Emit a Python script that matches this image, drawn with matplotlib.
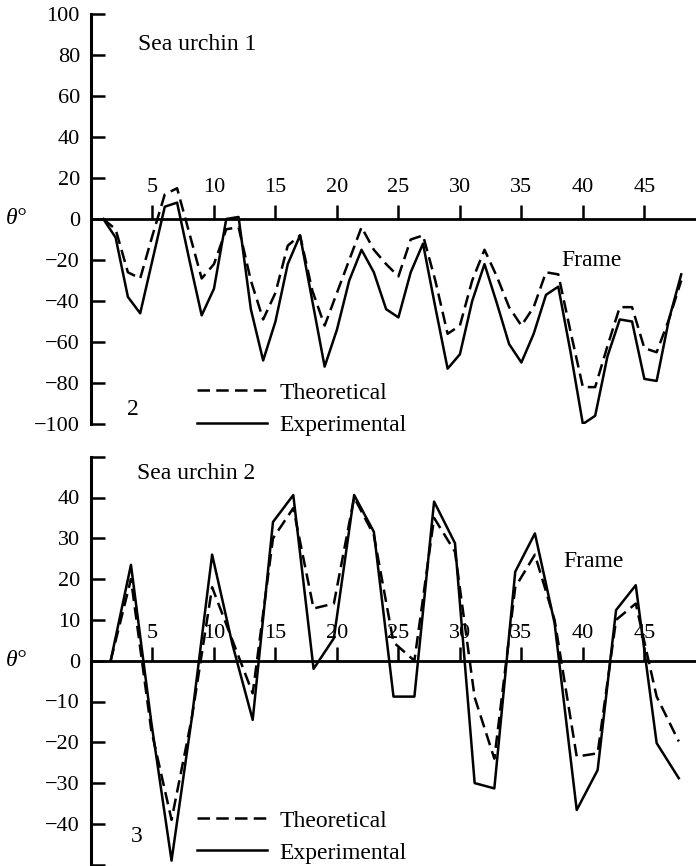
import matplotlib
matplotlib.use("Agg")
import matplotlib.pyplot as plt

plt.rcParams['font.family'] = ['Liberation Serif', 'DejaVu Serif']

# Sea urchin 1 - one point per frame
frames_1 = list(range(1, 49))
theo_1 = [0, -5, -26, -29, -8, 12, 15, -7, -29, -22, -5, -4, -30, -49, -36, -13,
          -8, -35, -52, -36, -20, -4, -15, -22, -28, -10, -8, -30, -56, -52, -30, -15,
          -28, -43, -52, -43, -26, -27, -55, -82, -82, -62, -43, -43, -63, -65, -49, -30]
expt_1 = [0, -9, -38, -46, -20, 6, 8, -20, -47, -34, 0, 1, -44, -69, -50, -22,
          -8, -40, -72, -54, -30, -15, -26, -44, -48, -26, -12, -43, -73, -66, -40, -22,
          -41, -61, -70, -56, -37, -33, -65, -100, -96, -67, -49, -50, -78, -79, -49, -27]

# Sea urchin 2 - points as placed on the frame axis
frames_2 = [1.6, 3.25, 4.9, 6.55, 8.2, 9.85, 11.5, 13.15, 14.8, 16.45, 18.1, 19.75,
            21.4, 23.0, 24.6, 26.3, 27.9, 29.6, 31.2, 32.8, 34.5, 36.1, 37.7, 39.5,
            41.2, 42.7, 44.3, 46.0, 47.8]
theo_2 = [0, 20, -17, -39, -14, 18, 5, -8, 30, 37.4, 12.8, 14, 40, 30.8, 4.5, 0,
          35, 26.7, -9, -24, 18, 26, 10, -23.5, -22.7, 10, 14, -8.8, -19.8]
expt_2 = [0, 23.5, -15, -49, -14, 26, 4, -14.5, 34, 40.6, -2, 5.5, 40.6, 31.6, -8.8, -8.8,
          39, 28.8, -30, -31.3, 21.8, 31.2, 9.2, -36.6, -26.8, 12.4, 18.5, -20.2, -28.8]

x_ticks = [5, 10, 15, 20, 25, 30, 35, 40, 45]

fig = plt.figure(figsize=(6.96, 8.66), dpi=100)

W, H = 696.0, 866.0
LEFT = 91 / W
WIDTH = 1 - LEFT
XMAX = 49.2
DASH = (0, (5, 2.5))


def setup_axis(ax, ylim, yticks, ylabels, xpad):
    ax.set_xlim(0, XMAX)
    ax.set_ylim(*ylim)
    ax.spines['right'].set_visible(False)
    ax.spines['bottom'].set_visible(False)
    ax.spines['left'].set_linewidth(2.2)
    ax.spines['top'].set_position(('data', 0))
    ax.spines['top'].set_linewidth(2.0)
    ax.xaxis.set_ticks_position('top')
    ax.set_xticks(x_ticks)
    ax.set_xticklabels([str(t) for t in x_ticks])
    ax.tick_params(axis='x', direction='out', length=10, width=1.8,
                   labelsize=16, pad=xpad)
    ax.set_yticks(yticks)
    ax.set_yticklabels(ylabels)
    ax.tick_params(axis='y', direction='in', length=10, width=1.8,
                   labelsize=16, pad=8)
    ax.patch.set_visible(False)


# ---- top panel ----
ax1 = fig.add_axes([LEFT, 442 / H, WIDTH, 410 / H])
yt1 = list(range(-100, 101, 20))
setup_axis(ax1, (-100, 100), yt1, [f"{v:d}".replace('-', '\u2212') for v in yt1], 6)
l1, = ax1.plot(frames_1, theo_1, color='black', lw=1.8, linestyle=DASH)
l2, = ax1.plot(frames_1, expt_1, color='black', lw=1.8)
ax1.text(0.078, 85, 'Sea urchin 1', transform=ax1.get_yaxis_transform(),
         fontsize=17, va='center', ha='left')
ax1.text(0.778, -20, 'Frame', transform=ax1.get_yaxis_transform(),
         fontsize=17, va='center', ha='left')
ax1.text(0.069, -93, '2', transform=ax1.get_yaxis_transform(),
         fontsize=17, va='center', ha='center')
ax1.text(-0.124, 0, 'θ°', transform=ax1.get_yaxis_transform(),
         fontsize=17, va='center', ha='center', style='italic')
ax1.legend([l1, l2], ['Theoretical', 'Experimental'], loc='upper left',
           bbox_to_anchor=(197 / W, 1 - 382 / H), bbox_transform=fig.transFigure,
           frameon=False, fontsize=17, handlelength=2.95, handletextpad=0.55,
           labelspacing=0.48, borderpad=0, borderaxespad=0)

# ---- bottom panel ----
ax2 = fig.add_axes([LEFT, 1.3 / H, WIDTH, 408 / H])
yt2 = list(range(-50, 51, 10))
yl2 = ['' if abs(v) == 50 else f"{v:d}".replace('-', '\u2212') for v in yt2]
setup_axis(ax2, (-50, 50), yt2, yl2, 3)
m1, = ax2.plot(frames_2, theo_2, color='black', lw=1.8, linestyle=DASH)
m2, = ax2.plot(frames_2, expt_2, color='black', lw=1.8)
ax2.text(0.076, 46, 'Sea urchin 2', transform=ax2.get_yaxis_transform(),
         fontsize=17, va='center', ha='left')
ax2.text(0.78, 24.3, 'Frame', transform=ax2.get_yaxis_transform(),
         fontsize=17, va='center', ha='left')
ax2.text(0.076, -43.2, '3', transform=ax2.get_yaxis_transform(),
         fontsize=17, va='center', ha='center')
ax2.text(-0.124, 0, 'θ°', transform=ax2.get_yaxis_transform(),
         fontsize=17, va='center', ha='center', style='italic')
ax2.legend([m1, m2], ['Theoretical', 'Experimental'], loc='upper left',
           bbox_to_anchor=(197 / W, 1 - 810 / H), bbox_transform=fig.transFigure,
           frameon=False, fontsize=17, handlelength=2.95, handletextpad=0.55,
           labelspacing=0.45, borderpad=0, borderaxespad=0)

fig.savefig('out.png', dpi=100)
